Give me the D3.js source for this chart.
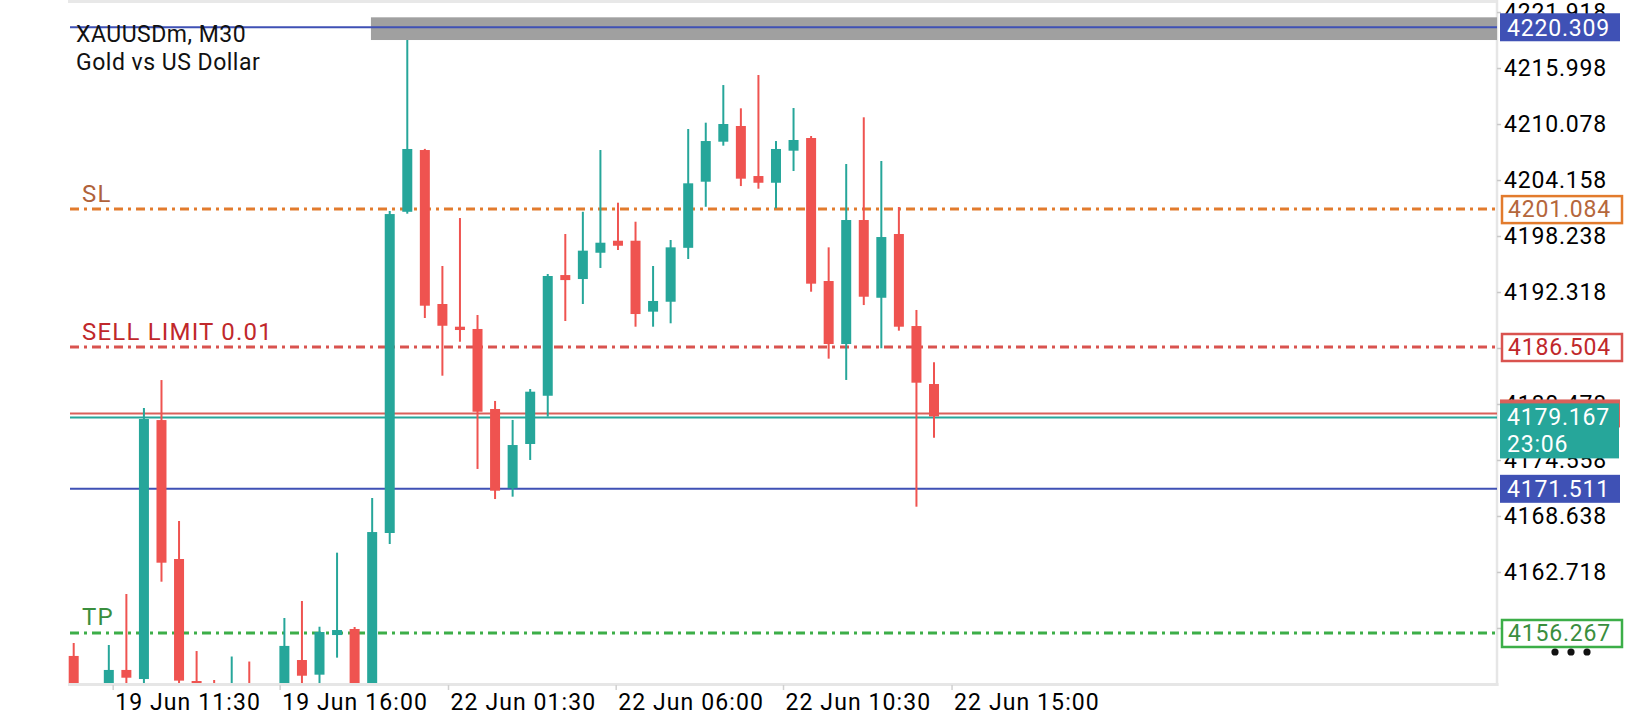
<!DOCTYPE html>
<html>
<head>
<meta charset="utf-8">
<script src="https://cdn.jsdelivr.net/npm/d3@7"></script>
<style>
body { margin: 0; background: #fff; }
svg text { font-family: Roboto, "Noto Sans", sans-serif; }
</style>
</head>
<body>
<div id="chart"></div>
<script>
// M30 bars, oldest first
var opens  = [4153.84, 4149.6, 4150.2, 4152.36, 4151.40, 4178.78, 4164.09, 4151.19, 4150.6, 4150.2,
              4150.9, 4150.4, 4150.0, 4153.41, 4151.86, 4156.05, 4156.69, 4150.5, 4166.84, 4200.80,
              4207.33, 4191.05, 4188.65, 4188.41, 4179.95, 4171.57, 4176.25, 4181.35, 4194.11, 4193.69,
              4196.47, 4197.74, 4197.74, 4190.24, 4191.29, 4196.99, 4203.98, 4208.21, 4209.87, 4204.58,
              4203.87, 4207.26, 4208.60, 4193.48, 4186.82, 4199.93, 4191.71, 4198.45, 4188.72, 4182.59];
var highs  = [4155.21, 4150.7, 4155.0, 4160.39, 4180.05, 4183.01, 4168.11, 4154.36, 4151.3, 4153.78,
              4153.25, 4150.8, 4157.85, 4159.65, 4156.93, 4164.76, 4156.90, 4170.54, 4200.88, 4218.96,
              4207.45, 4195.07, 4200.14, 4189.89, 4180.80, 4178.79, 4182.06, 4194.22, 4198.45, 4200.80,
              4207.33, 4201.76, 4199.75, 4195.07, 4197.82, 4209.55, 4210.22, 4214.20, 4211.74, 4215.26,
              4208.28, 4211.77, 4208.81, 4197.04, 4205.85, 4210.79, 4206.17, 4201.30, 4190.42, 4184.89];
var lows   = [4148.5, 4147.9, 4149.0, 4150.5, 4150.6, 4161.69, 4150.5, 4149.8, 4149.3, 4149.6,
              4149.8, 4148.9, 4149.0, 4150.6, 4150.7, 4153.66, 4149.8, 4149.9, 4165.68, 4200.60,
              4189.57, 4183.47, 4187.06, 4173.61, 4170.43, 4170.68, 4174.56, 4179.14, 4189.25, 4191.05,
              4194.86, 4196.76, 4188.65, 4188.65, 4189.01, 4195.81, 4201.33, 4207.79, 4203.52, 4203.24,
              4201.17, 4205.11, 4192.35, 4185.27, 4183.02, 4190.94, 4186.37, 4188.23, 4169.62, 4176.91];
var closes = [4149.5, 4148.6, 4152.36, 4151.54, 4178.89, 4163.70, 4151.23, 4150.7, 4150.0, 4150.9,
              4150.5, 4149.5, 4154.90, 4151.75, 4156.37, 4156.58, 4150.4, 4166.94, 4200.56, 4207.44,
              4190.87, 4188.75, 4188.30, 4179.66, 4171.31, 4176.14, 4181.78, 4194.01, 4193.58, 4196.69,
              4197.53, 4197.21, 4189.99, 4191.37, 4197.04, 4203.81, 4208.28, 4210.08, 4204.30, 4203.87,
              4207.44, 4208.39, 4193.20, 4186.82, 4199.93, 4191.82, 4198.13, 4188.65, 4182.73, 4179.167];

var priceTicks = [4221.918, 4215.998, 4210.078, 4204.158, 4198.238, 4192.318,
                  4186.398, 4180.478, 4174.558, 4168.638, 4162.718, 4156.798];
var timeLabels = ["19 Jun 11:30", "19 Jun 16:00", "22 Jun 01:30", "22 Jun 06:00", "22 Jun 10:30", "22 Jun 15:00"];
var timeBars   = [2.22, 11.73, 21.32, 30.87, 40.40, 50.0];   // bar index where each label sits

var bid = 4179.167, ask = 4179.48, countdown = "23:06";
var blueLevels = [4220.309, 4171.511];
var orders = [
    {name: "SL", price: 4201.084, line: "#e27b2d", text: "#b0623a", tag: "#b5673c"},
    {name: "SELL LIMIT 0.01", price: 4186.504, line: "#d9534f", text: "#c0282b", tag: "#c0282b"},
    {name: "TP", price: 4156.267, line: "#3cae48", text: "#3a8e3e", tag: "#3a8e3e"}
];
var zone = {fromBar: 16.93, hi: 4221.36, lo: 4218.96};

var W = 1640, H = 720;
var plot = {left: 68, right: 1497, top: 2, bottom: 683};
var up = "#26a69a", down = "#ef5350", blue = "#3f51b5";

var svg = d3.select("#chart").append("svg")
    .attr("width", W).attr("height", H)
    .style("display", "block");

var x = d3.scaleLinear().domain([0, 49]).range([73.7, 934]);
var y = d3.scaleLinear().domain([4150.98, 4222.98]).range([plot.bottom, plot.top]);

svg.append("clipPath").attr("id", "plotclip")
    .append("rect")
    .attr("x", plot.left).attr("y", plot.top)
    .attr("width", plot.right - plot.left).attr("height", plot.bottom - plot.top);

// frame
svg.append("line").attr("x1", plot.left).attr("x2", plot.right).attr("y1", 1.5).attr("y2", 1.5)
    .attr("stroke", "#e8e8e8").attr("stroke-width", 3);
svg.append("line").attr("x1", plot.left).attr("x2", plot.right + 1.5).attr("y1", 684.5).attr("y2", 684.5)
    .attr("stroke", "#e6e6e6").attr("stroke-width", 3);
svg.append("line").attr("x1", plot.right).attr("x2", plot.right).attr("y1", 0).attr("y2", 686)
    .attr("stroke", "#e6e6e6").attr("stroke-width", 2.5);

var g = svg.append("g").attr("clip-path", "url(#plotclip)");

// gray zone at the top
g.append("rect")
    .attr("x", x(zone.fromBar)).attr("y", y(zone.hi))
    .attr("width", plot.right - x(zone.fromBar))
    .attr("height", y(zone.lo) - y(zone.hi))
    .attr("fill", "#a0a0a0");

// level lines
blueLevels.forEach(function(p) {
    g.append("line").attr("x1", plot.left + 2).attr("x2", plot.right)
        .attr("y1", y(p)).attr("y2", y(p))
        .attr("stroke", blue).attr("stroke-width", 2);
});
orders.forEach(function(o) {
    g.append("line").attr("x1", plot.left + 2).attr("x2", plot.right)
        .attr("y1", y(o.price)).attr("y2", y(o.price))
        .attr("stroke", o.line).attr("stroke-width", 3)
        .attr("stroke-dasharray", "9,5,3,5");
    svg.append("text").attr("x", 82).attr("y", y(o.price) - 7.5)
        .attr("font-size", 24).attr("fill", o.text)
        .style("letter-spacing", "1.2px")
        .text(o.name);
});
g.append("line").attr("x1", plot.left + 2).attr("x2", plot.right)
    .attr("y1", y(ask)).attr("y2", y(ask))
    .attr("stroke", "#d9605a").attr("stroke-width", 2);
g.append("line").attr("x1", plot.left + 2).attr("x2", plot.right)
    .attr("y1", y(bid) + 1).attr("y2", y(bid) + 1)
    .attr("stroke", up).attr("stroke-width", 2);

// candles
var bars = d3.range(opens.length);
g.selectAll(".wick").data(bars).enter().append("line")
    .attr("x1", function(i) { return x(i); })
    .attr("x2", function(i) { return x(i); })
    .attr("y1", function(i) { return y(highs[i]); })
    .attr("y2", function(i) { return y(lows[i]); })
    .attr("stroke", function(i) { return closes[i] >= opens[i] ? up : down; })
    .attr("stroke-width", 2);
g.selectAll(".body").data(bars).enter().append("rect")
    .attr("x", function(i) { return x(i) - 5; })
    .attr("width", 10)
    .attr("y", function(i) { return y(Math.max(opens[i], closes[i])); })
    .attr("height", function(i) { return Math.max(2, Math.abs(y(opens[i]) - y(closes[i]))); })
    .attr("fill", function(i) { return closes[i] >= opens[i] ? up : down; });

// title
svg.append("text").attr("x", 76).attr("y", 42).attr("font-size", 23).attr("fill", "#111")
    .style("letter-spacing", "0.5px")
    .text("XAUUSDm, M30");
svg.append("text").attr("x", 76).attr("y", 70).attr("font-size", 23).attr("fill", "#111")
    .style("letter-spacing", "0.5px")
    .text("Gold vs US Dollar");

// price axis
var yAxis = svg.append("g")
    .attr("transform", "translate(" + plot.right + ",0)")
    .call(d3.axisRight(y).tickValues(priceTicks).tickFormat(d3.format(".3f"))
        .tickSize(4).tickPadding(3));
yAxis.select(".domain").remove();
yAxis.selectAll(".tick line").attr("stroke", "#c8c8c8").attr("stroke-width", 1.5);
yAxis.selectAll(".tick text").attr("font-size", 23).attr("fill", "#000")
    .attr("font-family", "Roboto, 'Noto Sans', sans-serif")
    .style("letter-spacing", "0.8px");

// time axis
var xAxis = svg.append("g")
    .attr("transform", "translate(0," + 685 + ")")
    .call(d3.axisBottom(x).tickValues(timeBars)
        .tickFormat(function(d, i) { return timeLabels[i]; })
        .tickSize(5).tickPadding(4));
xAxis.select(".domain").remove();
xAxis.selectAll(".tick line").attr("stroke", "#d0d0d0").attr("stroke-width", 1.5);
xAxis.selectAll(".tick text").attr("font-size", 23).attr("fill", "#000")
    .attr("font-family", "Roboto, 'Noto Sans', sans-serif")
    .attr("text-anchor", "start").attr("dx", 2)
    .style("letter-spacing", "1.1px");

// price tags on the axis
var tagX = plot.right + 3, tagW = 120, tagH = 28;
function filledTag(p, fill, label) {
    svg.append("rect").attr("x", tagX).attr("y", y(p) - tagH / 2)
        .attr("width", tagW).attr("height", tagH).attr("fill", fill);
    svg.append("text").attr("x", tagX + 7).attr("y", y(p)).attr("dy", "0.36em")
        .attr("font-size", 23).attr("fill", "#fff").style("letter-spacing", "0.8px")
        .text(label);
}
blueLevels.forEach(function(p) { filledTag(p, blue, d3.format(".3f")(p)); });

orders.forEach(function(o) {
    svg.append("rect").attr("x", tagX + 2).attr("y", y(o.price) - tagH / 2 + 1)
        .attr("width", tagW).attr("height", tagH - 1)
        .attr("fill", "#fff").attr("stroke", o.line).attr("stroke-width", 2.5);
    svg.append("text").attr("x", tagX + 8).attr("y", y(o.price)).attr("dy", "0.36em")
        .attr("font-size", 23).attr("fill", o.tag).style("letter-spacing", "0.8px")
        .text(d3.format(".3f")(o.price));
});

// ask tag (mostly hidden) and bid tag with countdown
filledTag(ask, "#d9605a", "");
svg.append("rect").attr("x", tagX).attr("y", y(bid) - 13)
    .attr("width", tagW - 1).attr("height", 55).attr("fill", up);
svg.append("text").attr("x", tagX + 7).attr("y", y(bid)).attr("dy", "0.36em")
    .attr("font-size", 23).attr("fill", "#fff").style("letter-spacing", "0.8px")
    .text(d3.format(".3f")(bid));
svg.append("text").attr("x", tagX + 7).attr("y", y(bid) + 27).attr("dy", "0.36em")
    .attr("font-size", 23).attr("fill", "#fff").style("letter-spacing", "0.8px")
    .text(countdown);

// the three-dot menu under the last tag
svg.selectAll(".dot").data([0, 1, 2]).enter().append("circle")
    .attr("cx", function(d) { return 1555 + d * 16; })
    .attr("cy", y(orders[2].price) + 19)
    .attr("r", 3.6).attr("fill", "#111");
</script>
</body>
</html>
